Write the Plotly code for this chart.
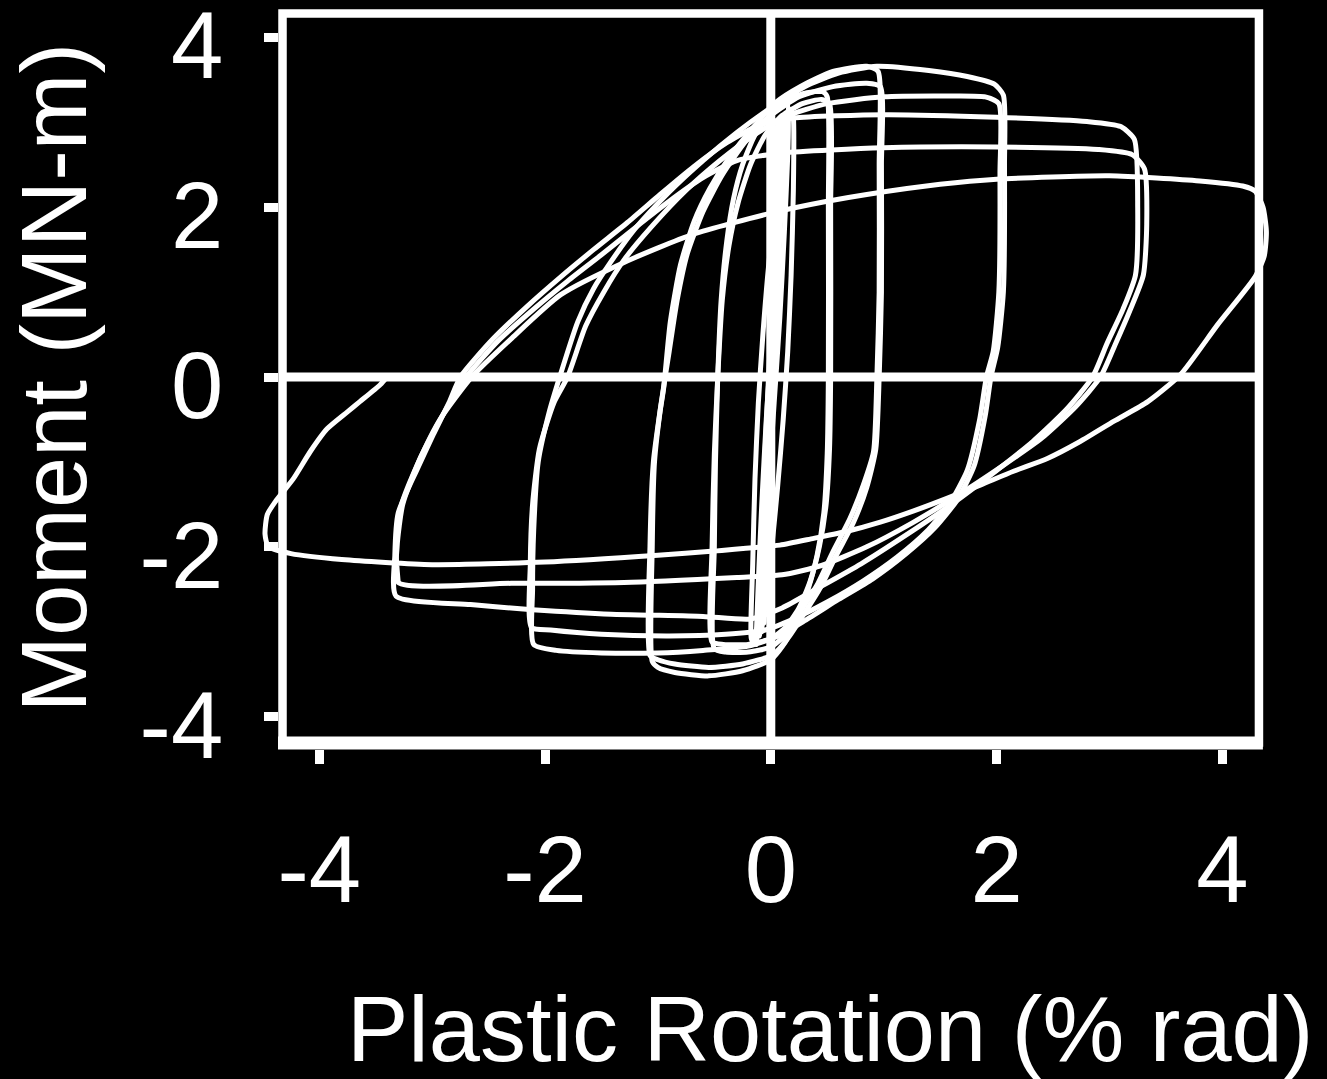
import plotly.graph_objects as go

# ---- axis ticks -------------------------------------------------------------
x_ticks = [-4, -2, 0, 2, 4]
x_tick_text = ["-4", "-2", "0", "2", "4"]
y_ticks = [-4, -2, 0, 2, 4]
y_tick_text = ["-4", "-2", "0", "2", "4"]

x_title = "Plastic Rotation (% rad)"
y_title = "Moment (MN-m)"

# ---- hysteresis record: plastic rotation (% rad) and moment (MN-m) ---------
# small elastic cycles
rot_e1 = [-0.06, -0.04, -0.01, 0.02, 0.05, 0.07, 0.06, 0.03, 0.00, -0.04, -0.07, -0.06]
mom_e1 = [-2.90, -1.50, 0.00, 1.50, 2.90, 3.00, 2.70, 1.40, 0.00, -1.40, -2.75, -2.90]

rot_e2 = [-0.10, -0.07, -0.02, 0.04, 0.10, 0.13, 0.12, 0.07, 0.02, -0.04, -0.09, -0.10]
mom_e2 = [-3.05, -1.50, 0.00, 1.50, 2.95, 3.10, 2.80, 1.40, 0.00, -1.40, -2.80, -3.05]

rot_e3 = [-0.17, -0.16, -0.14, -0.11, -0.07, -0.02, 0.05, 0.12, 0.18, 0.20, 0.20, 0.18,
          0.15, 0.11, 0.06, 0.00, -0.08, -0.17]
mom_e3 = [-3.10, -2.20, -1.20, -0.30, 0.50, 1.30, 2.10, 2.80, 3.15, 3.05, 2.20, 1.20,
          0.30, -0.50, -1.30, -2.10, -2.80, -3.10]

rot_e4 = [-0.08, -0.06, -0.03, 0.01, 0.05, 0.09, 0.11, 0.10, 0.08, 0.05, 0.01, -0.03,
          -0.07, -0.09, -0.08]
mom_e4 = [-3.00, -2.00, -1.00, 0.00, 1.00, 2.00, 2.70, 3.05, 2.40, 1.40, 0.40, -0.60,
          -1.80, -2.80, -3.00]

rot_e5 = [-0.13, -0.11, -0.08, -0.04, 0.01, 0.06, 0.11, 0.15, 0.16, 0.15, 0.12, 0.08,
          0.03, -0.02, -0.08, -0.12, -0.13]
mom_e5 = [-3.15, -2.40, -1.50, -0.50, 0.50, 1.50, 2.40, 3.05, 3.20, 2.60, 1.70, 0.70,
          -0.30, -1.30, -2.30, -3.00, -3.15]

# +/-0.5 cycles
rot_a1 = [-0.50, -0.50, -0.49, -0.47, -0.44, -0.39, -0.33, -0.25, -0.14, 0.00, 0.15, 0.32,
          0.46, 0.50, 0.51, 0.51, 0.50, 0.47, 0.41, 0.33, 0.23, 0.12, 0.00, -0.20, -0.40, -0.50]
mom_a1 = [-3.20, -2.00, -1.00, 0.00, 0.90, 1.60, 2.10, 2.50, 2.85, 3.10, 3.27, 3.35,
          3.36, 3.30, 2.00, 0.00, -0.90, -1.60, -2.10, -2.50, -2.82, -3.05, -3.18, -3.24, -3.24, -3.20]

rot_a2 = [-0.52, -0.52, -0.50, -0.47, -0.43, -0.37, -0.29, -0.18, -0.05, 0.10, 0.28, 0.45,
          0.52, 0.53, 0.53, 0.52, 0.49, 0.43, 0.35, 0.25, 0.13, 0.00, -0.20, -0.42, -0.52]
mom_a2 = [-3.12, -2.00, -0.90, 0.00, 0.90, 1.55, 2.05, 2.50, 2.85, 3.08, 3.22, 3.27,
          3.22, 2.00, 0.00, -0.85, -1.50, -2.00, -2.40, -2.72, -2.95, -3.08, -3.15, -3.15, -3.12]

# +/-1 cycles
rot_b1 = [-1.05, -1.05, -1.03, -0.98, -0.95, -0.89, -0.80, -0.68, -0.54, -0.36, -0.15, 0.05,
          0.26, 0.55, 0.85, 0.95, 0.96, 0.96, 0.94, 0.91, 0.82, 0.70, 0.55, 0.41, 0.26, 0.13,
          0.00, -0.25, -0.55, -0.85, -1.00, -1.05]
mom_b1 = [-3.35, -2.00, -1.00, -0.40, -0.14, 0.65, 1.32, 1.83, 2.22, 2.60, 2.95, 3.24,
          3.42, 3.60, 3.66, 3.60, 2.50, 1.00, 0.00, -0.88, -1.27, -1.67, -2.06, -2.45, -2.77, -3.12,
          -3.33, -3.46, -3.52, -3.48, -3.42, -3.35]

rot_b2 = [-1.07, -1.07, -1.04, -0.97, -0.90, -0.83, -0.74, -0.60, -0.43, -0.22, 0.00, 0.25,
          0.55, 0.85, 0.97, 0.98, 0.98, 0.96, 0.93, 0.85, 0.73, 0.58, 0.44, 0.29, 0.15, 0.02,
          -0.25, -0.55, -0.85, -1.00, -1.07]
mom_b2 = [-3.28, -2.00, -1.00, -0.30, 0.30, 0.90, 1.45, 1.95, 2.38, 2.78, 3.08, 3.30,
          3.42, 3.46, 3.42, 2.50, 1.00, 0.00, -0.85, -1.30, -1.72, -2.10, -2.48, -2.80, -3.08, -3.27,
          -3.38, -3.42, -3.38, -3.33, -3.28]

# +/-2 cycles
rot_c1 = [-2.10, -2.11, -2.10, -2.06, -1.96, -1.87, -1.71, -1.57, -1.42, -1.20, -0.90, -0.60,
          -0.30, 0.00, 0.30, 0.60, 0.94, 1.40, 1.74, 1.98, 2.06, 2.07, 2.06, 2.01, 1.95, 1.90,
          1.80, 1.65, 1.45, 1.20, 0.90, 0.60, 0.30, 0.05, -0.20, -0.60, -1.00, -1.50, -1.90, -2.10]
mom_c1 = [-3.15, -2.50, -1.80, -1.00, -0.40, 0.00, 0.65, 1.04, 1.35, 1.75, 2.18, 2.55,
          2.88, 3.17, 3.42, 3.58, 3.66, 3.61, 3.54, 3.45, 3.32, 2.50, 1.00, 0.35, 0.00, -0.45,
          -1.05, -1.45, -1.78, -2.08, -2.38, -2.62, -2.87, -3.06, -3.17, -3.22, -3.25, -3.25, -3.22, -3.15]

rot_c2 = [-2.12, -2.13, -2.11, -2.05, -1.92, -1.80, -1.64, -1.48, -1.30, -1.05, -0.75, -0.45,
          -0.15, 0.15, 0.50, 1.00, 1.50, 1.90, 2.02, 2.03, 2.02, 1.97, 1.91, 1.85, 1.74, 1.58,
          1.38, 1.12, 0.82, 0.50, 0.20, -0.05, -0.40, -0.90, -1.50, -1.95, -2.12]
mom_c2 = [-2.95, -2.20, -1.50, -0.85, -0.30, 0.00, 0.60, 1.00, 1.38, 1.78, 2.20, 2.55,
          2.85, 3.08, 3.22, 3.30, 3.31, 3.30, 3.22, 2.40, 1.00, 0.30, 0.00, -0.50, -1.10, -1.50,
          -1.82, -2.12, -2.40, -2.65, -2.85, -2.98, -3.03, -3.05, -3.03, -2.98, -2.95]

# +/-3.2 cycles
rot_d1 = [-3.32, -3.33, -3.30, -3.13, -2.99, -2.85, -2.75, -2.46, -2.16, -1.86, -1.57, -1.27,
          -0.98, -0.68, -0.39, -0.10, 0.20, 1.00, 2.00, 2.80, 3.10, 3.22, 3.25, 3.23, 3.12, 2.98,
          2.85, 2.62, 2.32, 2.00, 1.60, 1.20, 0.80, 0.40, 0.10, -0.18, -0.60, -1.48, -2.22, -2.66, -3.32]
mom_d1 = [-2.58, -2.10, -1.60, -1.08, -0.68, -0.30, 0.00, 0.45, 0.83, 1.18, 1.50, 1.82,
          2.15, 2.48, 2.76, 2.97, 3.05, 3.09, 3.06, 3.01, 2.95, 2.80, 2.00, 1.20, 0.80, 0.40,
          0.00, -0.38, -0.76, -1.10, -1.50, -1.86, -2.20, -2.50, -2.72, -2.85, -2.82, -2.79, -2.73, -2.68, -2.58]

rot_d2 = [-3.30, -3.31, -3.26, -3.12, -2.96, -2.82, -2.70, -2.42, -2.10, -1.80, -1.50, -1.20,
          -0.90, -0.60, -0.30, 0.10, 1.00, 2.00, 2.90, 3.20, 3.31, 3.33, 3.30, 3.18, 3.05, 2.92,
          2.70, 2.40, 2.05, 1.65, 1.25, 0.85, 0.45, 0.10, -0.30, -1.30, -2.30, -3.30]
mom_d2 = [-2.42, -2.00, -1.50, -1.00, -0.58, -0.25, 0.00, 0.42, 0.80, 1.13, 1.44, 1.76,
          2.07, 2.35, 2.55, 2.64, 2.70, 2.71, 2.68, 2.62, 2.45, 1.80, 1.20, 0.78, 0.38, 0.00,
          -0.35, -0.72, -1.05, -1.40, -1.72, -2.00, -2.22, -2.33, -2.36, -2.42, -2.43, -2.42]

# final +/-4.4 excursion, ending back at zero moment
rot_f = [-3.30, -3.32, -3.27, -3.12, -2.93, -2.65, -2.30, -1.86, -1.30, -0.69, 0.00, 0.50,
         0.85, 1.50, 2.00, 3.00, 3.80, 4.18, 4.29, 4.36, 4.39, 4.37, 4.29, 3.96, 3.63, 3.34,
         3.04, 2.74, 2.45, 2.15, 1.86, 1.56, 1.26, 0.97, 0.67, 0.38, 0.08, -0.50, -1.00, -2.00,
         -3.00, -3.80, -4.25, -4.45, -4.48, -4.46, -4.39, -4.23, -4.08, -3.93, -3.75, -3.64, -3.46, -3.40]
mom_f = [-2.42, -2.00, -1.50, -1.00, -0.50, 0.00, 0.45, 0.97, 1.35, 1.68, 1.93, 2.07,
         2.15, 2.27, 2.33, 2.37, 2.31, 2.25, 2.19, 2.00, 1.71, 1.42, 1.18, 0.62, 0.03, -0.29,
         -0.52, -0.76, -0.96, -1.11, -1.27, -1.43, -1.58, -1.71, -1.82, -1.90, -1.98, -2.05, -2.10, -2.18,
         -2.21, -2.15, -2.08, -2.00, -1.85, -1.62, -1.47, -1.20, -0.88, -0.61, -0.41, -0.29, -0.09, 0.00]

cycles = [
    (rot_e1, mom_e1), (rot_e2, mom_e2), (rot_e3, mom_e3), (rot_e4, mom_e4), (rot_e5, mom_e5),
    (rot_a1, mom_a1), (rot_a2, mom_a2),
    (rot_b1, mom_b1), (rot_b2, mom_b2),
    (rot_c1, mom_c1), (rot_c2, mom_c2),
    (rot_d1, mom_d1), (rot_d2, mom_d2),
    (rot_f, mom_f),
]

# frame of the plotting box in data units
box_x = (-4.325, 4.324)
box_y = (-4.305, 4.281)

FONT = "Liberation Sans, Arial, Helvetica, sans-serif"
INK = "white"

fig = go.Figure()
for rot, mom in cycles:
    fig.add_trace(go.Scatter(
        x=rot, y=mom, mode="lines",
        line=dict(color=INK, width=5, shape="spline", smoothing=0.6),
        hoverinfo="skip", showlegend=False,
    ))

shapes = [
    # zero reference lines
    dict(type="line", xref="x", yref="y", x0=0, x1=0, y0=box_y[0], y1=box_y[1],
         line=dict(color=INK, width=9), layer="below"),
    dict(type="line", xref="x", yref="y", x0=box_x[0], x1=box_x[1], y0=0, y1=0,
         line=dict(color=INK, width=9), layer="below"),
    # box
    dict(type="rect", xref="x", yref="y", x0=box_x[0], x1=box_x[1], y0=box_y[0], y1=box_y[1],
         line=dict(color=INK, width=8.5), layer="below"),
    dict(type="line", xref="x", yref="y", x0=box_x[0] - 0.04, x1=box_x[1] + 0.035,
         y0=box_y[0] - 0.005, y1=box_y[0] - 0.005,
         line=dict(color=INK, width=13), layer="below"),
]

axis_common = dict(
    showgrid=False, zeroline=False, showline=False, automargin=False,
    ticks="outside", ticklen=14, tickwidth=9, tickcolor=INK,
    tickfont=dict(family=FONT, size=94, color=INK),
    tickmode="array", ticklabeloverflow="allow",
)

fig.update_layout(
    width=1327, height=1079,
    margin=dict(l=250, r=37, t=5, b=324, pad=0, autoexpand=False),
    paper_bgcolor="black", plot_bgcolor="black",
    xaxis=dict(range=[-4.613, 4.599], anchor="free", position=0.008,
               tickvals=x_ticks, ticktext=x_tick_text, ticklabelstandoff=25,
               **axis_common),
    yaxis=dict(range=[-4.452, 4.382], anchor="free", position=0.0269,
               tickvals=y_ticks, ticktext=y_tick_text, ticklabelstandoff=22,
               ticklabelshift=8,
               **axis_common),
    shapes=shapes,
    annotations=[
        dict(text=x_title, xref="paper", yref="paper", x=0.5577, y=-0.3653,
             xanchor="center", yanchor="middle", showarrow=False,
             font=dict(family=FONT, size=92, color=INK)),
        dict(text=y_title, xref="paper", yref="paper", x=-0.188, y=0.504,
             xanchor="center", yanchor="middle", textangle=-90, showarrow=False,
             font=dict(family=FONT, size=92, color=INK)),
    ],
)

fig.write_html("out.html")
